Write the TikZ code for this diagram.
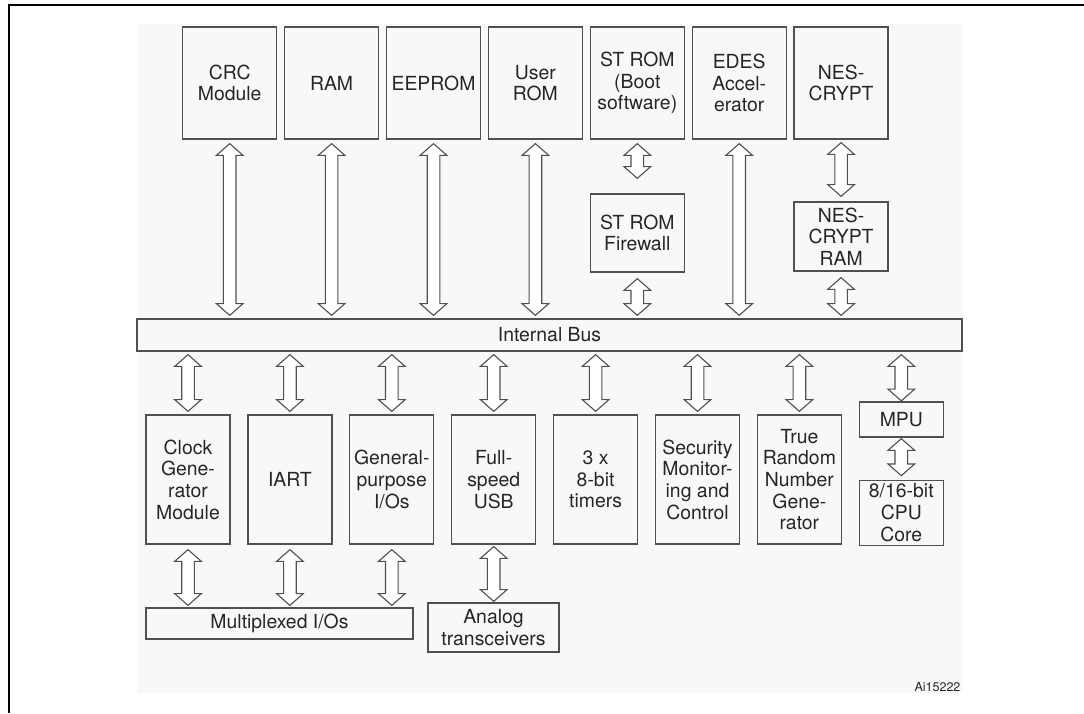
\documentclass[tikz,border=0pt]{standalone}
\usepackage{fontspec}
\setmainfont{TeX Gyre Heros}
\usetikzlibrary{calc,positioning}
\definecolor{bgpaper}{RGB}{248,248,246}
\definecolor{strokegray}{RGB}{80,80,80}
% hollow double arrow: from, to, gap at start, gap at end
\newcommand{\hollowarrow}[4]{%
  \draw[hollow] let \p1=(#1), \p2=(#2) in
    (\x1,\y1-#3pt) -- (\x1+13.3pt,\y1-#3pt-11.7pt) -- (\x1+6.3pt,\y1-#3pt-11.7pt)
    -- (\x1+6.3pt,\y2+#4pt+11.7pt) -- (\x1+13.3pt,\y2+#4pt+11.7pt) -- (\x1,\y2+#4pt)
    -- (\x1-13.3pt,\y2+#4pt+11.7pt) -- (\x1-6.3pt,\y2+#4pt+11.7pt)
    -- (\x1-6.3pt,\y1-#3pt-11.7pt) -- (\x1-13.3pt,\y1-#3pt-11.7pt) -- cycle;}

\begin{document}
\begin{tikzpicture}[
  x=1pt, y=1pt, line width=1.3pt,
  font=\fontsize{19.4}{21.7}\selectfont,
  block/.style={draw=strokegray, align=center, inner sep=0pt, text=black!85},
  topblock/.style={block, minimum width=94pt, minimum height=112pt},
  lowblock/.style={block, minimum width=84pt, minimum height=129pt},
  hollow/.style={draw=strokegray, fill=white, line width=1.1pt}
]
\useasboundingbox (0,0) rectangle (1084,713);
\fill[bgpaper] (137,20) rectangle (963,689);
\draw[line width=2pt] (9,0) -- (9,707.5) -- (1084,707.5);

% memories and crypto blocks
\foreach \nm/\lbl [count=\i from 0] in {crc/{CRC\\Module}, ram/RAM, eeprom/EEPROM,
    urom/{User\\ROM}, stboot/{ST ROM\\(Boot\\software)}, edes/{EDES\\Accel-\\erator},
    nes/{NES-\\CRYPT}} {
  \node[topblock] (\nm) at (229.7+101.9*\i,630) {\lbl};
}
\node[block, minimum width=94pt, minimum height=78pt] (stfw) at (637.3,480) {ST ROM\\Firewall};
\node[block, minimum width=94pt, minimum height=69pt] (nesram) at (841.1,476.5) {NES-\\CRYPT\\RAM};

\node[block, minimum width=825pt, minimum height=32pt] (bus) at (549.5,378) {Internal Bus};

% peripherals
\foreach \nm/\lbl [count=\i from 0] in {clk/{Clock\\Gene-\\rator\\Module}, iart/IART,
    gpio/{General-\\purpose\\I/Os}, usb/{Full-\\speed\\USB}, tim/{3 x\\8-bit\\timers},
    sec/{Security\\Monitor-\\ing and\\Control}, trng/{True\\Random\\Number\\Gene-\\rator}} {
  \node[lowblock] (\nm) at (188+101.9*\i,233.5) {\lbl};
}
\node[block, minimum width=84pt, minimum height=35pt] (mpu) at (901.3,293.5) {MPU};
\node[block, minimum width=84pt, minimum height=65pt, below=42pt of mpu] (cpu) {8/16-bit\\CPU\\Core};

\node[block, minimum width=267pt, minimum height=31pt] (mux) at (279.5,89.5) {Multiplexed I/Os};
\node[block, minimum width=131pt, minimum height=49pt] (analog) at (493.5,85.5) {Analog\\transceivers};

\node[font=\fontsize{12.5}{14}\selectfont, text=black!85] (ref) at (937.5,26) {Ai15222};

% bus arrows
\foreach \nm in {crc,ram,eeprom,urom,edes} {
  \hollowarrow{\nm.south}{bus.north -| \nm.south}{4}{3}
}
\hollowarrow{stboot.south}{stfw.north}{4}{15}
\hollowarrow{stfw.south}{bus.north -| stfw.south}{6}{3}
\hollowarrow{nes.south}{nesram.north}{3}{5}
\hollowarrow{nesram.south}{bus.north -| nesram.south}{6}{3}
\foreach \nm in {clk,iart,gpio,usb,tim,sec,trng} {
  \hollowarrow{bus.south -| \nm.north}{\nm.north}{3}{3}
}
\hollowarrow{bus.south -| mpu.north}{mpu.north}{3}{0.5}
\hollowarrow{mpu.south}{cpu.north}{1}{4}
\foreach \nm in {clk,iart,gpio} {
  \hollowarrow{\nm.south}{mux.north -| \nm.south}{5}{2}
}
\hollowarrow{usb.south}{analog.north}{2}{1}
\end{tikzpicture}
\end{document}
